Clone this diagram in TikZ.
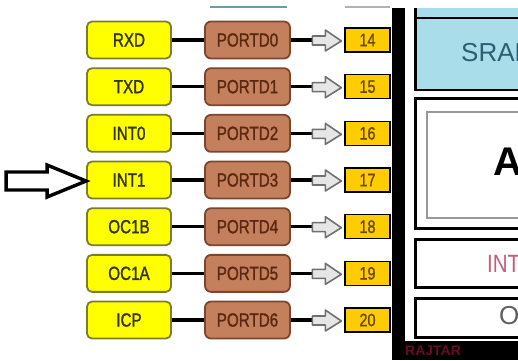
\documentclass[tikz,border=0pt]{standalone}
\usepackage{fontspec}
\setmainfont[FakeStretch=0.82]{Liberation Sans}
\newfontfamily\boxsans[FakeStretch=0.8, FakeBold=1.3]{Liberation Sans}
\newfontfamily\widesans{Liberation Sans}
\usetikzlibrary{arrows.meta}
\definecolor{sigfill}{HTML}{FFFF00}
\definecolor{sigline}{HTML}{7C7C2E}
\definecolor{sigtext}{HTML}{33330F}
\definecolor{portfill}{HTML}{C4805C}
\definecolor{portline}{HTML}{7A4630}
\definecolor{porttext}{HTML}{5A2810}
\definecolor{pinfill}{HTML}{FFCC00}
\definecolor{pintext}{HTML}{6A4A00}
\definecolor{sramfill}{HTML}{A9DDE9}
\definecolor{sramtext}{HTML}{2E5E74}
\definecolor{inttext}{HTML}{C45C7A}
\definecolor{fatline}{HTML}{707070}
\definecolor{fatfill}{HTML}{E6E6E6}
\definecolor{bandtext}{HTML}{6A0C1E}
\definecolor{topteal}{HTML}{6E9C9C}
\begin{document}
\begin{tikzpicture}[x=1pt,y=-1pt,
  sigbox/.style={draw=sigline, fill=sigfill, line width=1.8pt, rounded corners=5pt,
    minimum width=84pt, minimum height=37pt, inner sep=0pt, text=sigtext,
    font=\boxsans\fontsize{19}{19}\selectfont},
  portbox/.style={draw=portline, fill=portfill, line width=1.8pt, rounded corners=6pt,
    minimum width=85pt, minimum height=37pt, inner sep=0pt, text=porttext,
    font=\boxsans\fontsize{19}{19}\selectfont},
  pinbox/.style={draw=black, fill=pinfill, line width=1.3pt,
    minimum width=45pt, minimum height=24pt, inner sep=0pt, text=pintext,
    font=\boxsans\fontsize{18}{18}\selectfont},
  wire/.style={line width=3.2pt, black},
  fatarrow/.style={draw=fatline, fill=fatfill, line width=1.6pt, line join=round},
  bigarrow/.style={draw=black, fill=white, line width=3.4pt, line join=miter},
  panel/.style={draw=black, line width=3pt, fill=white}]
\useasboundingbox (0,0) rectangle (518,360);
\clip (0,0) rectangle (518,360);
\fill[white] (0,0) rectangle (518,360);

% remnants of the cut-off row above
\draw[topteal, line width=1.5pt] (210,7) -- (287,7);
\draw[gray!60, line width=1.2pt] (345,7) -- (390,7);

% right-hand block
\fill[black] (392,8) rectangle (405,360);
\fill[sramfill] (415,8) rectangle (525,90);
\draw[black, line width=3pt] (415,8) -- (415,91);
\draw[black, line width=2.5pt] (415,18) rectangle (530,90);
\node[anchor=west, inner sep=0pt, text=sramtext, font=\widesans\fontsize{26}{26}\selectfont] (sram) at (461,53) {SRAM};

\draw[panel] (415,98) rectangle (530,228);
\draw[gray!80, line width=2pt] (427,112) rectangle (530,218);
\node[anchor=west, inner sep=0pt, font=\widesans\bfseries\fontsize{40}{40}\selectfont] (alu) at (493,162) {A};

\draw[panel] (415,239) rectangle (530,287);
\node[anchor=west, inner sep=0pt, text=inttext, font=\fontsize{25}{25}\selectfont] (intr) at (487,264) {INT};

\draw[panel] (415,298) rectangle (530,337);
\node[anchor=west, inner sep=0pt, text=gray!75!black, font=\widesans\fontsize{26}{26}\selectfont] (osc) at (499,316) {O};

\fill[black] (392,341) rectangle (518,360);
\node[anchor=west, inner sep=0pt, text=bandtext, font=\widesans\bfseries\fontsize{14}{14}\selectfont] (band) at (405,351) {RAJTAR};

% pin rows
\foreach \i/\s in {0/RXD,1/TXD,2/INT0,3/INT1,4/OC1B,5/OC1A,6/ICP}{
  \pgfmathsetmacro\yy{40+46.67*\i}
  \pgfmathtruncatemacro\pn{14+\i}
  \node[sigbox] (s\i) at (129,\yy) {\s};
  \node[portbox] (p\i) at (247.5,\yy) {PORTD\i};
  \node[pinbox] (n\i) at (367.5,\yy) {\pn};
  \coordinate (c\i) at (313,\yy);
  \draw[wire] (s\i.east) -- (p\i.west);
  \draw[wire] (p\i.east) -- (c\i);
  \begin{scope}[shift={(n\i.west)}]
    \draw[fatarrow] (-32,-4) -- (-19,-4) -- (-19,-10) -- (-3,1) -- (-19,11) -- (-19,5) -- (-32,5) -- cycle;
  \end{scope}
}

% big pointer arrow to INT1
\begin{scope}[shift={(s3.west)}]
  \draw[bigarrow] (-80,-8) -- (-39,-8) -- (-39,-15) -- (0,1) -- (-39,17) -- (-39,10) -- (-80,10) -- cycle;
\end{scope}
\end{tikzpicture}
\end{document}
